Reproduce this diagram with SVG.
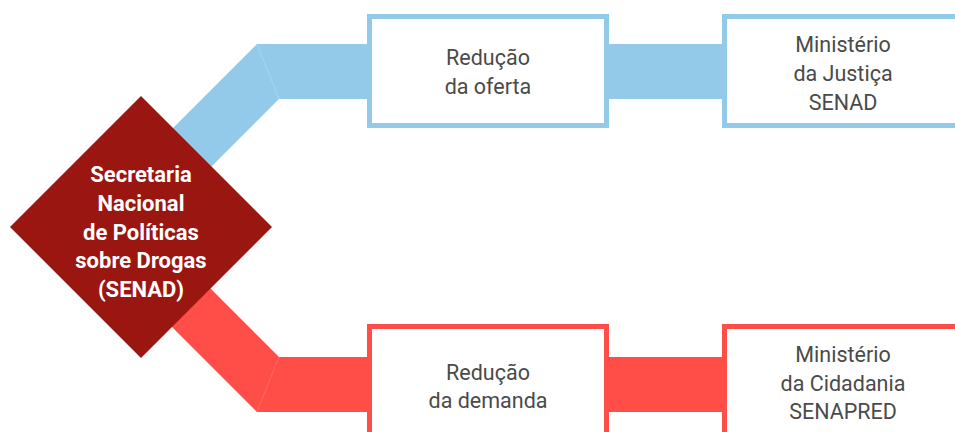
<svg xmlns="http://www.w3.org/2000/svg" width="955" height="432" viewBox="0 0 955 432">
<style>
.blue{fill:#93CAEA}
.red{fill:#FF4D47}
.seamB{stroke:#A9D5EF;stroke-width:1}
.seamR{stroke:#FF6A64;stroke-width:1}
.boxB{fill:#fff;stroke:#93CAEA;stroke-width:5}
.boxR{fill:#fff;stroke:#FF4D47;stroke-width:5}
.t{font-family:Roboto,"Liberation Sans",sans-serif;font-size:21.5px;fill:#4a4a4a;text-anchor:middle}
.w{font-family:Roboto,"Liberation Sans",sans-serif;font-size:22px;font-weight:bold;fill:#fff;text-anchor:middle}
</style>
<rect width="955" height="432" fill="#fff"/>
<g id="connectors">
<polygon class="blue" points="137,164 257,44 730,44 730,99 279,99 159,219"/>
<line class="seamB" x1="257" y1="44" x2="279" y2="99"/>
<polygon class="red" points="137,215 279,357 730,357 730,412 257,412 159,314"/>
<line class="seamR" x1="279" y1="357" x2="257" y2="412"/>
</g>
<g id="senad">
<polygon points="141,96 272,227 141,358 10,227" fill="#9A1610"/>
<text class="w" x="141" y="182">Secretaria</text>
<text class="w" x="141" y="211">Nacional</text>
<text class="w" x="141" y="240">de Políticas</text>
<text class="w" x="141" y="268">sobre Drogas</text>
<text class="w" x="141" y="297">(SENAD)</text>
</g>
<g id="reducao-oferta">
<rect class="boxB" x="369.5" y="16.5" width="237" height="109"/>
<text class="t" x="488" y="65">Redução</text>
<text class="t" x="488" y="94">da oferta</text>
</g>
<g id="ministerio-justica">
<rect class="boxB" x="724.5" y="16.5" width="260" height="109"/>
<text class="t" x="843" y="52">Ministério</text>
<text class="t" x="843" y="81">da Justiça</text>
<text class="t" x="843" y="110">SENAD</text>
</g>
<g id="reducao-demanda">
<rect class="boxR" x="369.5" y="326.5" width="237" height="200"/>
<text class="t" x="488" y="380">Redução</text>
<text class="t" x="488" y="408">da demanda</text>
</g>
<g id="ministerio-cidadania">
<rect class="boxR" x="724.5" y="326.5" width="260" height="200"/>
<text class="t" x="843" y="362">Ministério</text>
<text class="t" x="843" y="391">da Cidadania</text>
<text class="t" x="843" y="419">SENAPRED</text>
</g>
</svg>
